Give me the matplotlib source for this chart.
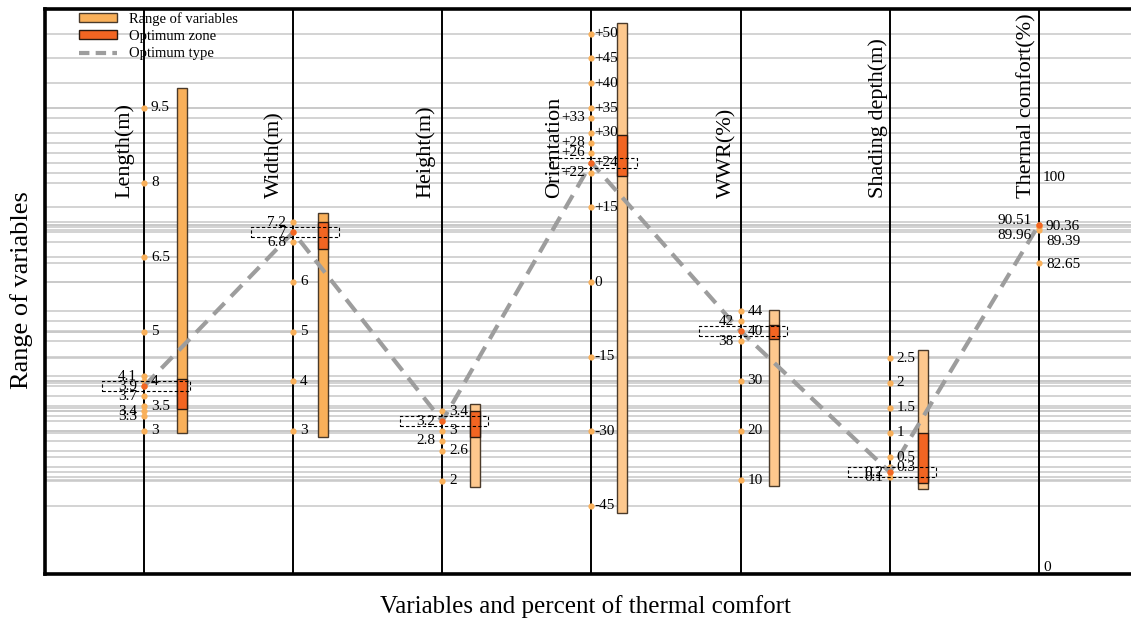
import matplotlib.pyplot as plt
from matplotlib.patches import Patch, Rectangle
from matplotlib.lines import Line2D

#-------------------------------------DATA-------------------------------------#

variables = ['Length(m)', 'Width(m)', 'Height(m)', 'Orientation', 'WWR(%)',
             'Shading depth(m)', 'Thermal comfort(%)']

# valori segnati su ogni asse e quelli scritti a sinistra dell'asse
length_ticks = [9.5, 8, 6.5, 5, 4.1, 4, 3.9, 3.7, 3.5, 3.4, 3.3, 3]
length_left = [4.1, 3.9, 3.7, 3.4, 3.3]
width_ticks = [7.2, 7, 6.8, 6, 5, 4, 3]
width_left = [7.2, 7, 6.8]
height_ticks = [3.4, 3.2, 3, 2.8, 2.6, 2]
height_left = [3.2, 2.8]
orient_ticks = [50, 45, 40, 35, 33, 30, 28, 26, 24, 22, 15, 0, -15, -30, -45]
orient_left = [33, 28, 26, 22]
wwr_ticks = [44, 42, 40, 38, 30, 20, 10]
wwr_left = [42, 38]
shading_ticks = [2.5, 2, 1.5, 1, 0.5, 0.3, 0.2, 0.1]
shading_left = [0.2, 0.1]
comfort_ticks = [90.51, 90.36, 89.96, 89.39, 82.65]
comfort_left = [90.51, 89.96]
comfort_extra = [100]

# range of variables (barre) e optimum zone
range_low = [2.95, 2.88, 1.87, -46.5, 8.9, -0.14]
range_high = [9.9, 7.39, 3.54, 52.1, 44.2, 2.66]
zone_low = [3.45, 6.66, 2.88, 21.3, 38.4, -0.02]
zone_high = [4.05, 7.2, 3.4, 29.6, 41.2, 1.0]

# optimum type
optimum = [3.9, 7, 3.2, 24, 40, 0.2, 90.51]

#------------------------------------LAYOUT------------------------------------#

# scala lineare di ogni asse: posizione = offset + slope * valore
scales = [(-6.1, 49.7), (-6.1, 49.7), (-6.1, 49.7), (292, 4.97),
          (44, 4.97), (92, 49.5), (-94, 4.9)]
bar_offset = [38, 30, 33, 31, 33, 33]     # px a destra dell'asse
title_dx = [-19, -18, -17, -37, -14, -12, -12]
PX = 149.17                                # px tra due assi

# spostamento verticale (pt) delle etichette affollate del thermal comfort
comfort_shift = {90.51: 3, 90.36: -1, 89.96: -6, 89.39: -8, 82.65: -1}

all_ticks = [length_ticks, width_ticks, height_ticks, orient_ticks,
             wwr_ticks, shading_ticks, comfort_ticks]
all_left = [length_left, width_left, height_left, orient_left,
            wwr_left, shading_left, comfort_left]

ORANGE = '#F9B05A'
LIGHT = '#FDC88E'
RED = '#F26522'
GREY = '#9d9d9d'

plt.rcParams['font.family'] = ['Liberation Serif', 'DejaVu Serif']


def pos(i, v):
    a, b = scales[i]
    return a + b * v


def fmt(i, v):
    if i == 3 and v > 0:
        return '+%g' % v
    return '%g' % v

#-------------------------------------MAIN-------------------------------------#

fig = plt.figure(figsize=(11.31, 6.24), dpi=100)
ax = fig.add_axes([45 / 1131, 50 / 624, 1086 / 1131, 565 / 624])
ax.set_xlim(-99 / PX, 6 + 92 / PX)
ax.set_ylim(0, 565)

# linee orizzontali grigie
for i, ticks in enumerate(all_ticks):
    for v in ticks:
        ax.axhline(pos(i, v), color='#c8c8c8', lw=1.1, zorder=0)

# assi verticali
for i in range(len(variables)):
    ax.axvline(i, color='black', lw=1.4, zorder=1)

# barre
for i in range(len(range_low)):
    x = i + bar_offset[i] / PX
    col = ORANGE if i < 2 else LIGHT
    ax.bar(x, pos(i, range_high[i]) - pos(i, range_low[i]),
           bottom=pos(i, range_low[i]), width=10 / PX, color=col,
           edgecolor='#4a3a2a', lw=1, zorder=2)
    ax.bar(x, pos(i, zone_high[i]) - pos(i, zone_low[i]),
           bottom=pos(i, zone_low[i]), width=10 / PX, color=RED,
           edgecolor='#2a1a10', lw=1, zorder=3)

# punti e etichette
for i, ticks in enumerate(all_ticks):
    ys = [pos(i, v) for v in ticks]
    ax.plot([i] * len(ys), ys, 'o', color=ORANGE, ms=4.5, mec='none', zorder=4)
    for v in ticks:
        left = v in all_left[i]
        dy = comfort_shift.get(v, 0) if i == 6 else 0
        ax.annotate(fmt(i, v), (i, pos(i, v)),
                    xytext=(-5 if left else (2 if i == 3 else 5), dy),
                    textcoords='offset points',
                    ha='right' if left else 'left', va='center',
                    fontsize=11, zorder=6)

for v in comfort_extra:
    ax.annotate('%g' % v, (6, pos(6, v)), xytext=(3, 0),
                textcoords='offset points', ha='left', va='center', fontsize=11)
ax.annotate('0', (6, 0), xytext=(3, 0), textcoords='offset points',
            ha='left', va='bottom', fontsize=11)

# optimum type
opt_y = [pos(i, v) for i, v in enumerate(optimum)]
ax.plot(range(len(optimum)), opt_y, color=GREY, lw=3, dashes=(3.8, 2.2),
        zorder=5)
ax.plot(range(len(optimum)), opt_y, 'o', color=RED, ms=4.5, mec='none',
        zorder=6)

# riquadri tratteggiati attorno all'ottimo
for i in range(len(optimum) - 1):
    ax.add_patch(Rectangle((i - 42 / PX, opt_y[i] - 5), 88 / PX, 10,
                           fill=False, ls=(0, (3, 2)), lw=0.8,
                           edgecolor='black', zorder=5))

# titoli degli assi
for i, name in enumerate(variables):
    ax.text(i + title_dx[i] / PX, 376, name, rotation=90, ha='center',
            va='bottom', fontsize=16)

# bordo
for s in ['top', 'left', 'bottom']:
    ax.spines[s].set_linewidth(2.6)
ax.spines['right'].set_visible(False)
ax.set_xticks([])
ax.set_yticks([])

handles = [Patch(facecolor=ORANGE, edgecolor='#4a3a2a'),
           Patch(facecolor=RED, edgecolor='#2a1a10'),
           Line2D([], [], color=GREY, lw=3, dashes=(2.5, 1.5))]
ax.legend(handles, ['Range of variables', 'Optimum zone', 'Optimum type'],
          loc='upper left', bbox_to_anchor=(0.025, 1.008), frameon=False,
          fontsize=10.5, handlelength=2.6, handleheight=0.55,
          labelspacing=0.3, borderaxespad=0.1, handletextpad=0.8)

fig.text(585 / 1131, 1 - 607 / 624, 'Variables and percent of thermal comfort',
         ha='center', va='center', fontsize=18)
fig.text(22 / 1131, 1 - 290 / 624, 'Range of variables', rotation=90,
         ha='center', va='center', fontsize=19)

fig.savefig('out.png', dpi=100)
